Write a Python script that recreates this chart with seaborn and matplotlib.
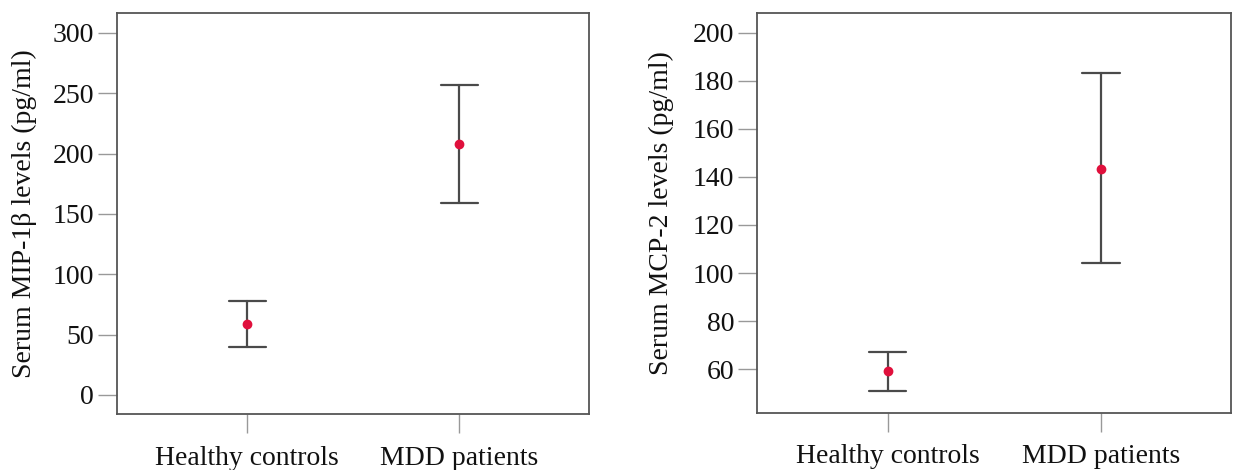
import matplotlib
matplotlib.use("Agg")
import matplotlib.pyplot as plt
import seaborn as sns
import pandas as pd

# values (mean with lower / upper error bar ends)
groups = ["Healthy controls", "MDD patients"]
mip_mean = [59.0, 208.0]
mip_lower = [40.0, 159.5]
mip_upper = [77.5, 256.5]
mcp_mean = [59.0, 143.5]
mcp_lower = [51.0, 104.0]
mcp_upper = [67.0, 183.5]

mip_ticks = [0, 50, 100, 150, 200, 250, 300]
mcp_ticks = [60, 80, 100, 120, 140, 160, 180, 200]


def long_table(mean, lower, upper):
    rows = []
    for g, m, lo, hi in zip(groups, mean, lower, upper):
        for v in (lo, m, hi):
            rows.append({"group": g, "value": v})
    return pd.DataFrame(rows)


sns.set_theme(style="white")
plt.rcParams["font.family"] = ["Liberation Serif", "DejaVu Serif"]

fig = plt.figure(figsize=(12.34, 4.70), dpi=100)
ax1 = fig.add_axes([0.0948, 0.1181, 0.3825, 0.8543])
ax2 = fig.add_axes([0.6135, 0.1213, 0.3841, 0.8511])

panels = [
    (ax1, long_table(mip_mean, mip_lower, mip_upper), "Serum MIP-1β levels (pg/ml)",
     mip_ticks, (-16.2, 316.6), -0.169),
    (ax2, long_table(mcp_mean, mcp_lower, mcp_upper), "Serum MCP-2 levels (pg/ml)",
     mcp_ticks, (41.7, 208.3), -0.176),
]

for ax, df, label, ticks, ylim, lab_x in panels:
    sns.pointplot(
        data=df, x="group", y="value", order=groups,
        estimator="median", errorbar=lambda v: (v.min(), v.max()),
        capsize=0.175, color="#4a4a4a", linestyle="none",
        err_kws={"linewidth": 1.6}, ax=ax,
    )
    for ln in ax.lines:
        if ln.get_marker() == "o":
            ln.set_markerfacecolor("#e0103c")
            ln.set_markeredgecolor("#e0103c")
            ln.set_markersize(5)
            ln.set_zorder(5)
    ax.set_xlim(-0.613, 1.61)
    ax.set_ylim(*ylim)
    ax.set_yticks(ticks)
    ax.set_xlabel("")
    ax.set_ylabel(label, fontsize=20, color="#111111")
    ax.yaxis.set_label_coords(lab_x, 0.5)
    for sp in ax.spines.values():
        sp.set_visible(True)
        sp.set_color("#555555")
        sp.set_linewidth(1.3)
    ax.tick_params(axis="both", which="major", direction="out", length=13.5,
                   width=1.0, color="#999999", labelsize=20, labelcolor="#111111")
    ax.tick_params(axis="y", pad=3, left=True)
    ax.tick_params(axis="x", pad=9, bottom=True)

fig.savefig("out.png", dpi=100)
